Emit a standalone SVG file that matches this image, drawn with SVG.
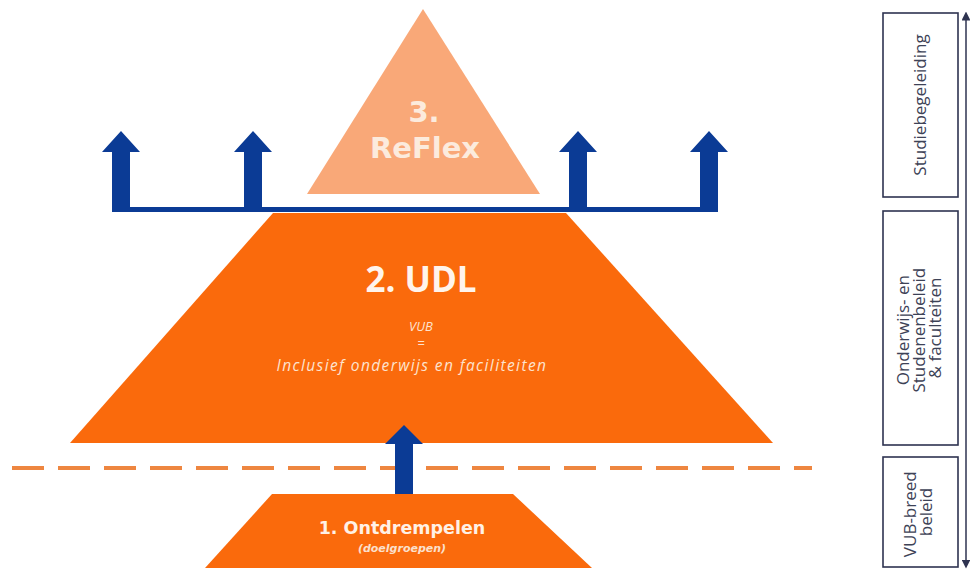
<svg xmlns="http://www.w3.org/2000/svg" width="970" height="569" viewBox="0 0 970 569">
  <defs>
    <style>
      .orange { fill: #FA6A0C; }
      .peach { fill: #F9A878; }
      .blue { fill: #0B3B95; }
      .title { font-family: "DejaVu Sans", Verdana, sans-serif; font-weight: bold; text-anchor: middle; }
      .udl { font-family: "Open Sans", "Liberation Sans", sans-serif; font-weight: bold; text-anchor: middle; fill: #FFF4EC; }
      .sub { font-family: "Open Sans", "Liberation Sans", sans-serif; font-style: italic; text-anchor: middle; fill: #FDE3CF; }
      .side { font-family: "Open Sans", "Liberation Sans", sans-serif; font-size: 17px; text-anchor: middle; fill: #3D4256; }
      .box { fill: #FFFFFF; stroke: #2E3350; stroke-width: 1.6; }
    </style>
    <marker id="ah" viewBox="0 0 10 10" refX="5" refY="5" markerWidth="6" markerHeight="6" orient="auto-start-reverse">
      <path d="M0,0 L10,5 L0,10 z" fill="#2E3350"/>
    </marker>
  </defs>
  <rect width="970" height="569" fill="#FFFFFF"/>

  <g id="reflex">
    <polygon class="peach" points="423,9 307,194 540,194"/>
    <text class="title" x="424" y="122" font-size="29" fill="#FCEBDD">3.</text>
    <text class="title" x="425" y="158" font-size="29" fill="#FCEBDD">ReFlex</text>
  </g>

  <g id="udl">
    <polygon class="orange" points="273,213 566,213 773,443 70,443"/>
    <text class="udl" x="421" y="292" font-size="35">2. UDL</text>
    <text class="sub" x="421" y="331" font-size="13">VUB</text>
    <text class="sub" x="421" y="348" font-size="13">=</text>
    <text class="sub" x="412" y="371" font-size="15.5" letter-spacing="1.4">Inclusief onderwijs en faciliteiten</text>
  </g>

  <g id="connectors">
    <rect class="blue" x="112" y="207" width="606" height="5"/>
    <polygon class="blue" points="121,131 140,152 130,152 130,212 112,212 112,152 102,152"/>
    <polygon class="blue" points="253,131 272,152 262,152 262,212 244,212 244,152 234,152"/>
    <polygon class="blue" points="578,131 597,152 587,152 587,212 569,212 569,152 559,152"/>
    <polygon class="blue" points="709,131 728,152 718,152 718,212 700,212 700,152 690,152"/>
    <line x1="12" y1="468" x2="812" y2="468" stroke="#EE8640" stroke-width="4" stroke-dasharray="32 14"/>
    <polygon class="blue" points="404,425 423,444 413,444 413,500 395,500 395,444 385,444"/>
    <line x1="966" y1="16" x2="966" y2="564" stroke="#2E3350" stroke-width="1.5" marker-start="url(#ah)" marker-end="url(#ah)"/>
  </g>

  <g id="ontdrempelen">
    <polygon class="orange" points="272,494 513,494 592,568 205,568"/>
    <text class="title" x="402" y="534" font-size="17.5" fill="#FFF1E6">1. Ontdrempelen</text>
    <text x="402" y="552" font-family="DejaVu Sans, sans-serif" font-style="italic" font-weight="bold" font-size="11" text-anchor="middle" fill="#FBE0CC">(doelgroepen)</text>
  </g>

  <g id="studiebegeleiding">
    <rect class="box" x="883" y="13" width="75" height="184"/>
    <text class="side" transform="translate(920,105) rotate(-90)" x="0" y="6">Studiebegeleiding</text>
  </g>

  <g id="onderwijsbeleid">
    <rect class="box" x="883" y="211" width="75" height="234"/>
    <text class="side" transform="translate(920,328) rotate(-90)">
      <tspan x="0" y="-11">Onderwijs- en</tspan>
      <tspan x="0" y="5">Studenenbeleid</tspan>
      <tspan x="0" y="21">&amp; faculteiten</tspan>
    </text>
  </g>

  <g id="vub-breed">
    <rect class="box" x="883" y="457" width="75" height="110"/>
    <text class="side" transform="translate(920,512) rotate(-90)">
      <tspan x="0" y="-4">VUB-breed</tspan>
      <tspan x="0" y="12">beleid</tspan>
    </text>
  </g>
</svg>
